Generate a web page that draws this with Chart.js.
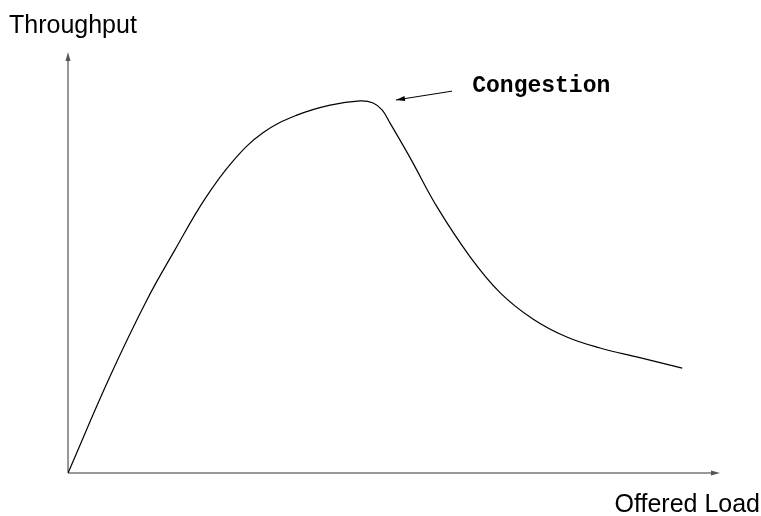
<!DOCTYPE html>
<html lang="en">
<head>
    <meta charset="UTF-8">
    <title>Throughput vs Offered Load</title>
    <style>
        html, body {
            margin: 0;
            padding: 0;
            background: #fff;
        }
        .wrap {
            position: relative;
            width: 761px;
            height: 516px;
        }
    </style>
</head>
<body>
    <div class="wrap">
        <canvas id="chart" width="761" height="516"></canvas>
    </div>

    <script src="https://cdn.jsdelivr.net/npm/chart.js"></script>
    <script>
        // curve (offered load -> throughput, 0..100 scale)
        const loadValues = [0, 6.4, 12.1, 16.4, 21.0, 25.3, 29.9, 35.1, 40.2, 44.8, 46.8, 48.2, 49.4, 52.5, 56.6, 61.7, 66.3, 71.3, 76.5, 81.6, 87.7, 94.2];
        const throughputValues = [0, 22.8, 41.1, 53.0, 65.1, 74.1, 80.8, 85.0, 87.4, 88.4, 87.9, 86.2, 83.1, 74.8, 63.2, 51.3, 42.8, 36.6, 32.3, 29.7, 27.4, 24.9];

        const xLabel = 'Offered Load';
        const yLabel = 'Throughput';

        // annotation: text plus arrow pointing at the knee of the curve
        const noteText = 'Congestion';
        const noteTextPos = [62.0, 90.5];
        const noteArrowFrom = [58.9, 90.7];
        const noteArrowTo = [50.3, 88.6];

        const points = loadValues.map((x, i) => ({ x: x, y: throughputValues[i] }));

        function arrowHead(ctx, x1, y1, x2, y2, len, half) {
            const a = Math.atan2(y2 - y1, x2 - x1);
            ctx.beginPath();
            ctx.moveTo(x2, y2);
            ctx.lineTo(x2 - len * Math.cos(a) + half * Math.sin(a), y2 - len * Math.sin(a) - half * Math.cos(a));
            ctx.lineTo(x2 - len * Math.cos(a) - half * Math.sin(a), y2 - len * Math.sin(a) + half * Math.cos(a));
            ctx.closePath();
            ctx.fill();
        }

        const sketchPlugin = {
            id: 'sketch',
            beforeDatasetsDraw(chart) {
                const ctx = chart.ctx;
                const xs = chart.scales.x;
                const ys = chart.scales.y;
                const x0 = xs.getPixelForValue(0);
                const y0 = ys.getPixelForValue(0);
                const xEnd = xs.getPixelForValue(100);
                const yEnd = ys.getPixelForValue(100);

                ctx.save();
                ctx.strokeStyle = '#777';
                ctx.fillStyle = '#555';
                ctx.lineWidth = 1.5;
                ctx.beginPath();
                ctx.moveTo(x0, y0);
                ctx.lineTo(x0, yEnd + 4);
                ctx.moveTo(x0, y0);
                ctx.lineTo(xEnd - 4, y0);
                ctx.stroke();
                arrowHead(ctx, x0, y0, x0, yEnd, 9, 2.5);
                arrowHead(ctx, x0, y0, xEnd, y0, 9, 2.5);

                // axis titles
                ctx.fillStyle = '#000';
                ctx.font = '25px "Liberation Sans", Arial, sans-serif';
                ctx.textAlign = 'left';
                ctx.textBaseline = 'alphabetic';
                ctx.fillText(yLabel, 9, 33);
                ctx.textAlign = 'right';
                ctx.fillText(xLabel, 760, 512);
                ctx.restore();
            },
            afterDatasetsDraw(chart) {
                const ctx = chart.ctx;
                const xs = chart.scales.x;
                const ys = chart.scales.y;
                const fx = xs.getPixelForValue(noteArrowFrom[0]);
                const fy = ys.getPixelForValue(noteArrowFrom[1]);
                const tx = xs.getPixelForValue(noteArrowTo[0]);
                const ty = ys.getPixelForValue(noteArrowTo[1]);

                ctx.save();
                ctx.strokeStyle = '#000';
                ctx.fillStyle = '#000';
                ctx.lineWidth = 1;
                ctx.beginPath();
                ctx.moveTo(fx, fy);
                ctx.lineTo(tx, ty);
                ctx.stroke();
                arrowHead(ctx, fx, fy, tx, ty, 9, 2.5);

                ctx.font = 'bold 23px "Liberation Mono", "Courier New", monospace';
                ctx.textAlign = 'left';
                ctx.textBaseline = 'alphabetic';
                ctx.fillText(noteText, xs.getPixelForValue(noteTextPos[0]), ys.getPixelForValue(noteTextPos[1]));
                ctx.restore();
            }
        };

        new Chart(document.getElementById('chart'), {
            type: 'line',
            data: {
                datasets: [{
                    data: points,
                    borderColor: '#000',
                    borderWidth: 1.2,
                    pointRadius: 0,
                    fill: false,
                    tension: 0.4
                }]
            },
            options: {
                responsive: false,
                animation: false,
                layout: {
                    padding: { left: 68, right: 41, top: 52, bottom: 43 }
                },
                plugins: {
                    legend: { display: false },
                    tooltip: { enabled: false }
                },
                scales: {
                    x: { type: 'linear', min: 0, max: 100, display: false },
                    y: { type: 'linear', min: 0, max: 100, display: false }
                }
            },
            plugins: [sketchPlugin]
        });
    </script>
</body>
</html>
